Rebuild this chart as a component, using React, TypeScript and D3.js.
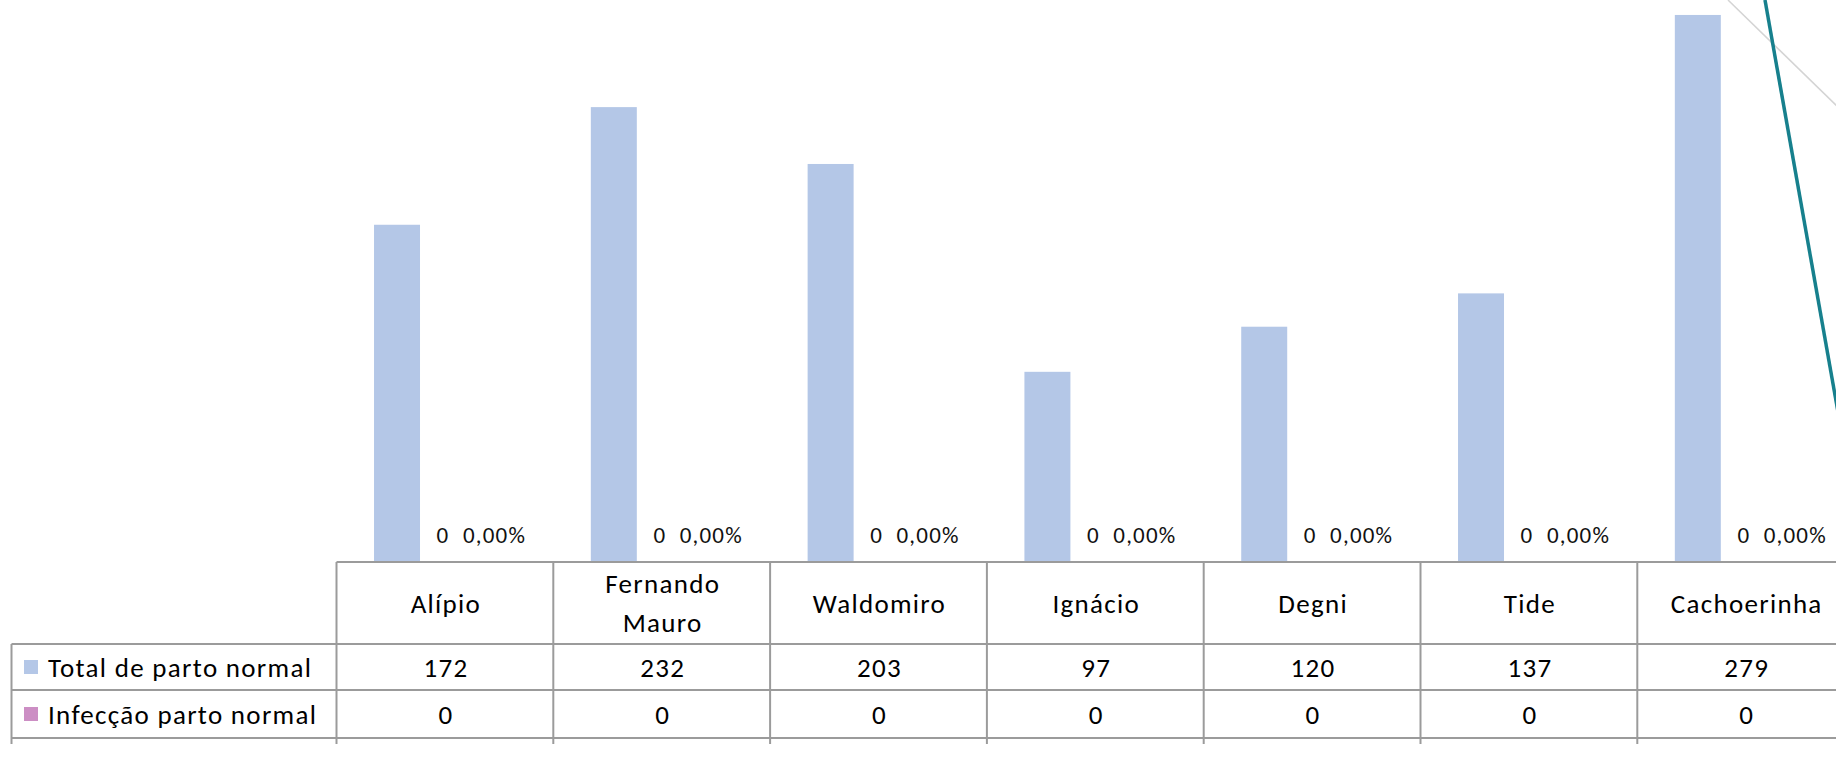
import { useEffect, useRef } from "react";
import * as d3 from "d3";

const categories = [
  "Alípio",
  "Fernando Mauro",
  "Waldomiro",
  "Ignácio",
  "Degni",
  "Tide",
  "Cachoerinha",
];
const totalPartoNormal = [172, 232, 203, 97, 120, 137, 279];
const infeccaoPartoNormal = [0, 0, 0, 0, 0, 0, 0];
const taxaInfeccao = [0, 0, 0, 0, 0, 0, 0];
const seriesNames = ["Total de parto normal", "Infecção parto normal"];
const seriesColors = ["#B4C7E7", "#CC8EC4"];

const W = 1836;
const H = 781;
const FONT = "Carlito, Calibri, Lato, sans-serif";

const fmtPct = (v: number) => d3.format(".2f")(v).replace(".", ",") + "%";

const App = () => {
  const ref = useRef<SVGSVGElement | null>(null);

  useEffect(() => {
    const svg = d3.select(ref.current);
    svg.selectAll("*").remove();

    const tableLeft = 336.5;
    const colW = 216.8;
    const legendLeft = 11.5;
    const catTop = 562;
    const rowLines = [644, 690, 738];
    const lineColor = "#9B9B9B";

    const x = d3
      .scaleBand<string>()
      .domain(categories)
      .range([tableLeft, tableLeft + colW * categories.length])
      .padding(0);

    // three series per category: total, infecção, taxa
    const inner = d3
      .scaleBand<number>()
      .domain([0, 1, 2])
      .range([0, colW])
      .paddingInner(0)
      .paddingOuter(0.857)
      .align(0.476);

    const y = d3.scaleLinear().domain([0, 280]).range([catTop, 13]);

    // bars
    svg
      .append("g")
      .attr("fill", seriesColors[0])
      .selectAll("rect")
      .data(categories)
      .join("rect")
      .attr("x", (c) => x(c)! + inner(0)!)
      .attr("y", (_, i) => y(totalPartoNormal[i]))
      .attr("width", inner.bandwidth())
      .attr("height", (_, i) => y(0) - y(totalPartoNormal[i]));

    svg
      .append("g")
      .attr("fill", seriesColors[1])
      .selectAll("rect")
      .data(categories)
      .join("rect")
      .attr("x", (c) => x(c)! + inner(1)!)
      .attr("y", (_, i) => y(infeccaoPartoNormal[i]))
      .attr("width", inner.bandwidth())
      .attr("height", (_, i) => y(0) - y(infeccaoPartoNormal[i]));

    // data labels
    const labels = svg
      .append("g")
      .attr("font-family", FONT)
      .attr("font-size", 23)
      .attr("letter-spacing", 1.2)
      .attr("fill", "#111")
      .attr("text-anchor", "middle");

    labels
      .selectAll("text.inf")
      .data(categories)
      .join("text")
      .attr("class", "inf")
      .attr("x", (c) => x(c)! + inner(1)! + inner.bandwidth() / 2)
      .attr("y", (_, i) => y(infeccaoPartoNormal[i]) - 19)
      .text((_, i) => String(infeccaoPartoNormal[i]));

    labels
      .selectAll("text.pct")
      .data(categories)
      .join("text")
      .attr("class", "pct")
      .attr("x", (c) => x(c)! + inner(2)! + inner.bandwidth() / 2 + 5.5)
      .attr("y", (_, i) => y(taxaInfeccao[i]) - 19)
      .text((_, i) => fmtPct(taxaInfeccao[i]));

    // data table
    const table = svg
      .append("g")
      .attr("stroke", lineColor)
      .attr("stroke-width", 2)
      .attr("fill", "none");

    table
      .append("line")
      .attr("x1", tableLeft)
      .attr("x2", W)
      .attr("y1", catTop)
      .attr("y2", catTop);

    table
      .selectAll("line.h")
      .data(rowLines)
      .join("line")
      .attr("class", "h")
      .attr("x1", legendLeft)
      .attr("x2", W)
      .attr("y1", (d) => d)
      .attr("y2", (d) => d);

    table
      .append("line")
      .attr("x1", legendLeft)
      .attr("x2", legendLeft)
      .attr("y1", rowLines[0])
      .attr("y2", rowLines[2] + 6);

    table
      .selectAll("line.v")
      .data(d3.range(categories.length + 1))
      .join("line")
      .attr("class", "v")
      .attr("x1", (i) => tableLeft + i * colW)
      .attr("x2", (i) => tableLeft + i * colW)
      .attr("y1", catTop)
      .attr("y2", rowLines[2] + 6);

    const txt = svg
      .append("g")
      .attr("font-family", FONT)
      .attr("font-size", 27)
      .attr("letter-spacing", 1.3)
      .attr("fill", "#000");

    // category names
    const catMid = (catTop + rowLines[0]) / 2;
    categories.forEach((c) => {
      const lines = c.includes(" ") ? c.split(" ") : [c];
      const lh = 38.7;
      lines.forEach((ln, k) => {
        txt
          .append("text")
          .attr("x", x(c)! + colW / 2 + 1)
          .attr("y", catMid + 9.5 + (k - (lines.length - 1) / 2) * lh)
          .attr("text-anchor", "middle")
          .text(ln);
      });
    });

    // legend rows + values
    const rowData = [totalPartoNormal, infeccaoPartoNormal];
    rowData.forEach((vals, r) => {
      const mid = (rowLines[r] + rowLines[r + 1]) / 2;
      svg
        .append("rect")
        .attr("x", 24)
        .attr("y", mid - 7)
        .attr("width", 14)
        .attr("height", 14)
        .attr("fill", seriesColors[r]);
      txt
        .append("text")
        .attr("x", 48)
        .attr("y", mid + 9.5)
        .text(seriesNames[r]);
      categories.forEach((c, i) => {
        txt
          .append("text")
          .attr("x", x(c)! + colW / 2 + 1)
          .attr("y", mid + 9.5)
          .attr("text-anchor", "middle")
          .text(String(vals[i]));
      });
    });

    // slide decoration lines at top right
    svg
      .append("line")
      .attr("x1", 1728)
      .attr("y1", 0)
      .attr("x2", 1840)
      .attr("y2", 109)
      .attr("stroke", "#D4D4D4")
      .attr("stroke-width", 1.5);
    svg
      .append("line")
      .attr("x1", 1765)
      .attr("y1", 0)
      .attr("x2", 1838)
      .attr("y2", 412)
      .attr("stroke", "#17808D")
      .attr("stroke-width", 3.5);
  }, []);

  return (
    <svg
      ref={ref}
      width={W}
      height={H}
      style={{ position: "absolute", left: 0, top: 0, display: "block", background: "#fff" }}
    />
  );
};

export default App;
